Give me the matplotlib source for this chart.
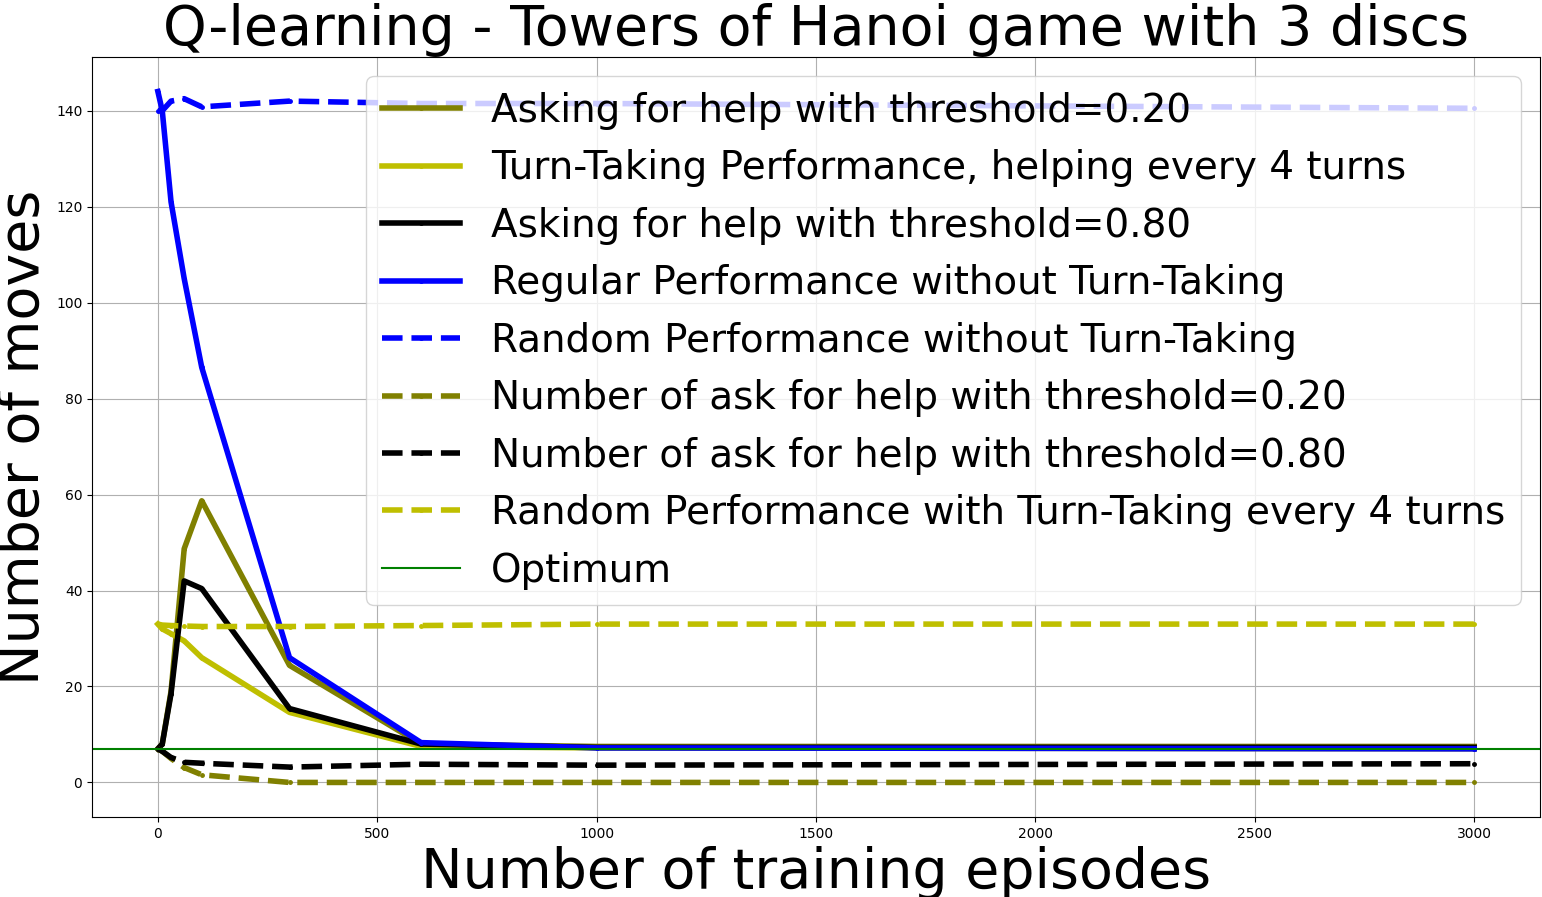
import numpy as np
import matplotlib
matplotlib.use("Agg")
import matplotlib.pyplot as plt

# training episodes at which performance was measured
episodes = [0, 10, 30, 60, 100, 300, 600, 1000, 3000]

# number of moves per policy
ask_020 = [7, 8, 19, 48.7, 58.7, 24.4, 8.0, 7.5, 7.5]
turn_taking = [33, 32, 31, 29.5, 26, 14.6, 7.5, 7.2, 7.0]
ask_080 = [7, 8, 18.5, 42, 40.4, 15.4, 8.0, 7.3, 7.3]
regular = [144, 140, 121, 105, 86.5, 26, 8.3, 7.2, 7.0]
random_regular = [140, 140, 142, 142.5, 140.8, 142, 141.5, 141.5, 140.5]
n_ask_020 = [7, 6.5, 5, 3.1, 1.6, 0, 0, 0, 0]
n_ask_080 = [7, 6.5, 5.2, 4.2, 4.0, 3.2, 3.8, 3.6, 3.9]
random_tt = [33, 32.8, 32.7, 32.6, 32.5, 32.5, 32.7, 33, 33]
optimum = 7

fig = plt.figure(figsize=(15.42, 8.97), dpi=100)
ax = fig.add_subplot(111)
fig.subplots_adjust(left=0.0597, right=0.9987, top=0.9365, bottom=0.0892)

lw = 4
ax.plot(episodes, ask_020, '.-', color='olive', lw=lw, ms=5,
        label='Asking for help with threshold=0.20')
ax.plot(episodes, turn_taking, '.-', color='y', lw=lw, ms=5,
        label='Turn-Taking Performance, helping every 4 turns')
ax.plot(episodes, ask_080, '.-', color='k', lw=lw, ms=5,
        label='Asking for help with threshold=0.80')
ax.plot(episodes, regular, '.-', color='b', lw=lw, ms=5,
        label='Regular Performance without Turn-Taking')
ax.plot(episodes, random_regular, '.--', color='b', lw=lw, ms=5,
        label='Random Performance without Turn-Taking')
ax.plot(episodes, n_ask_020, '.--', color='olive', lw=lw, ms=5,
        label='Number of ask for help with threshold=0.20')
ax.plot(episodes, n_ask_080, '.--', color='k', lw=lw, ms=5,
        label='Number of ask for help with threshold=0.80')
ax.plot(episodes, random_tt, '.--', color='y', lw=lw, ms=5,
        label='Random Performance with Turn-Taking every 4 turns')
ax.axhline(optimum, color='g', lw=1.5, label='Optimum')

ax.grid(True)
ax.set_title('Q-learning - Towers of Hanoi game with 3 discs', fontsize=40)
ax.set_xlabel('Number of training episodes', fontsize=40)
ax.set_ylabel('Number of moves', fontsize=40)
ax.legend(fontsize=28, loc='upper right')

fig.savefig('out.png', dpi=100)
